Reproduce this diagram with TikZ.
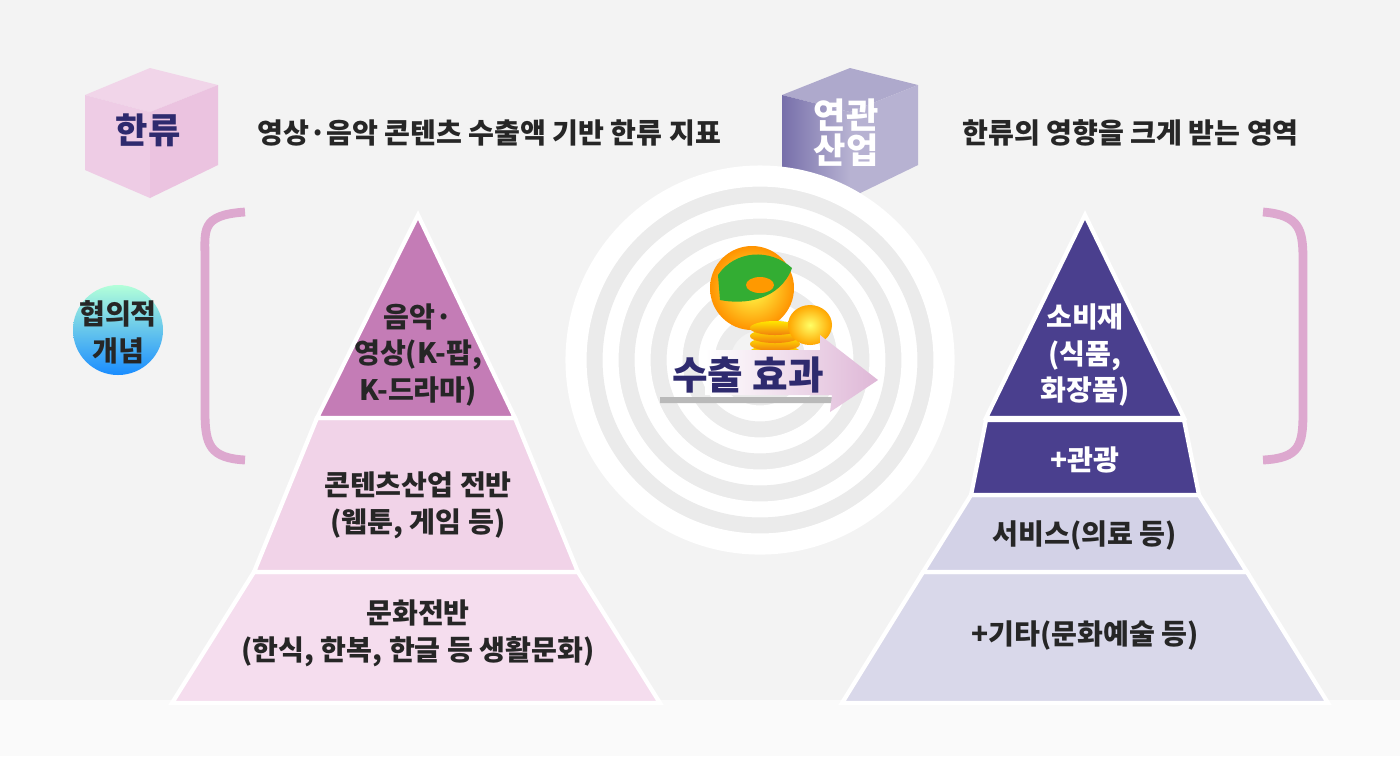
\documentclass[tikz,border=0pt]{standalone}
\usepackage{fontspec}
\setmainfont{Noto Sans CJK KR}
\usetikzlibrary{shadings}
\definecolor{bgGray}{HTML}{F3F3F3}
\definecolor{pinkTop}{HTML}{C47CB6}
\definecolor{pinkMid}{HTML}{F1D3E8}
\definecolor{pinkLow}{HTML}{F5DDEE}
\definecolor{purpTop}{HTML}{4A3F8E}
\definecolor{lavMid}{HTML}{D3D2E7}
\definecolor{lavLow}{HTML}{D9D8EA}
\definecolor{navyText}{HTML}{2E2A6E}
\definecolor{cubePink}{HTML}{EBC3E0}
\definecolor{brktPink}{HTML}{DDA8CF}
\tikzset{
  lbl/.style={font=\bfseries\fontsize{8}{10.5}\selectfont, align=center, text=black!85},
  lblw/.style={lbl, text=white},
  hdr/.style={font=\bfseries\fontsize{8}{10}\selectfont, text=black!85},
  layer/.style={draw=white, line width=1.2pt},
  ring/.style={draw=gray!16, line width=6pt},
  gap/.style={draw=white, line width=6pt}
}
\begin{document}
\begin{tikzpicture}[x=0.01cm,y=-0.01cm]

    % Background
    \fill[bgGray] (0,0) rectangle (1400,756);
    \fill[white!60!bgGray] (0,700) rectangle (1400,756);

    % Pink cube
    \fill[cubePink!70] (85,95) -- (150,68) -- (218,85) -- (150,112) -- cycle;
    \fill[cubePink!85] (85,95) -- (150,112) -- (150,198) -- (85,170) -- cycle;
    \fill[cubePink] (150,112) -- (218,85) -- (218,165) -- (150,198) -- cycle;
    \node[font=\bfseries\fontsize{10}{12}\selectfont, text=navyText] (hallyu) at (148,130) {한류};
    \node[hdr, anchor=west] (hallyuText) at (245,133) {영상·음악 콘텐츠 수출액 기반 한류 지표};

    % Purple cube
    \fill[purpTop!45] (782,95) -- (850,68) -- (918,85) -- (850,112) -- cycle;
    \shade[left color=purpTop!75, right color=purpTop!40] (782,95) -- (850,112) -- (850,198) -- (782,170) -- cycle;
    \fill[purpTop!40] (850,112) -- (918,85) -- (918,165) -- (850,198) -- cycle;
    \node[font=\bfseries\fontsize{10}{12}\selectfont, text=white, align=center] (related) at (846,133) {연관\\[-2pt]산업};
    \node[hdr, anchor=west] (relatedText) at (950,133) {한류의 영향을 크게 받는 영역};

    % Brackets
    \draw[brktPink, line width=2.5pt] (245,212) .. controls (200,215) and (205,230) .. (205,260)
        -- (205,412) .. controls (205,445) and (210,458) .. (245,460);
    \draw[brktPink, line width=2.5pt] (1263,212) .. controls (1300,215) and (1303,230) .. (1303,260)
        -- (1303,412) .. controls (1303,445) and (1300,458) .. (1263,460);

    % Narrow-concept circle
    \shade[top color=cyan!50!green!30, bottom color=blue!50!cyan!90] (118,330) circle (45);
    \node[lbl] (narrow) at (118,332) {협의적\\개념};

    % Concentric rings
    \foreach \r in {40,72,104,136,168} {
      \draw[ring] (760,360) circle (\r);
      \draw[gap] (760,360) circle (\r+16);
    }

    % Globe and coins
    \shade[inner color=yellow!70, outer color=orange!85!yellow] (752,288) circle (42);
    \fill[green!60!black!80] (718,275) .. controls (735,250) and (770,248) .. (792,268)
        .. controls (780,300) and (745,305) .. (720,300) -- cycle;
    \fill[orange!80!yellow] (760,285) ellipse (14 and 8);
    \foreach \dy in {0,8,16,24}
      \shade[top color=yellow!80!orange, bottom color=orange!80!brown] (775,352-\dy) ellipse (25 and 7);
    \shade[inner color=yellow!60, outer color=orange!70!yellow] (810,325) ellipse (22 and 20);

    % Export arrow
    \fill[gray!55] (660,397) -- (840,397) -- (835,403) -- (660,403) -- cycle;
    \shade[left color=white, right color=pinkTop!55] (705,350) -- (820,350) -- (820,335) -- (878,380)
        -- (830,412) -- (832,395) -- (705,395) -- cycle;
    \node[font=\bfseries\fontsize{11}{13}\selectfont, text=navyText] (export) at (748,375) {수출 효과};

    % Left pyramid
    \fill[layer, fill=pinkLow] (172,703) -- (660,703) -- (578,572) -- (254,572) -- cycle;
    \fill[layer, fill=pinkMid] (254,572) -- (578,572) -- (515,418) -- (317,418) -- cycle;
    \fill[layer, fill=pinkTop] (317,418) -- (515,418) -- (418,215) -- cycle;
    \node[lbl] (music) at (418,355) {음악·\\영상(K-팝,\\K-드라마)};
    \node[lbl] (content) at (418,505) {콘텐츠산업 전반\\(웹툰, 게임 등)};
    \node[lbl] (culture) at (418,633) {문화전반\\(한식, 한복, 한글 등 생활문화)};

    % Right pyramid
    \fill[layer, fill=lavLow] (842,703) -- (1328,703) -- (1247,572) -- (923,572) -- cycle;
    \fill[layer, fill=lavMid] (923,572) -- (1247,572) -- (1199,495) -- (971,495) -- cycle;
    \fill[layer, fill=purpTop] (971,495) -- (1199,495) -- (1184,420) -- (986,420) -- cycle;
    \fill[layer, fill=purpTop] (986,418) -- (1184,418) -- (1085,215) -- cycle;
    \node[lblw] (goods) at (1085,355) {소비재\\(식품,\\화장품)};
    \node[lblw] (tour) at (1085,460) {+관광};
    \node[lbl] (service) at (1085,535) {서비스(의료 등)};
    \node[lbl] (etc) at (1085,635) {+기타(문화예술 등)};

\end{tikzpicture}
\end{document}
